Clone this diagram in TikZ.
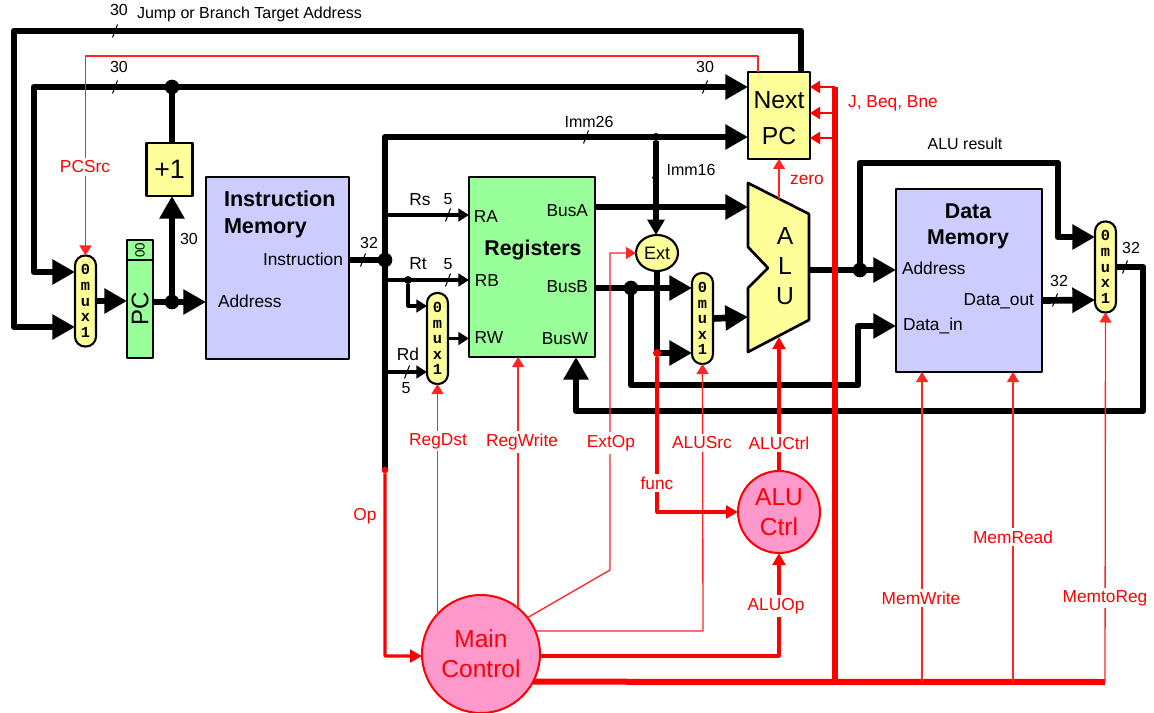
\documentclass[tikz,border=0pt]{standalone}
\usepackage{xcolor}
\usepackage{fontspec}
\setmainfont{Liberation Sans}
\setmonofont{Liberation Mono}
\usetikzlibrary{arrows.meta, calc, shapes.geometric}
\definecolor{memfill}{RGB}{204,204,255}
\definecolor{regfill}{RGB}{153,255,153}
\definecolor{alufill}{RGB}{255,255,153}
\definecolor{ctlfill}{RGB}{255,153,204}
\newcommand{\fs}[1]{\fontsize{#1pt}{#1pt}\selectfont\baselineskip=1.22\baselineskip}

\begin{document}
\begin{tikzpicture}[x=0.75pt, y=-0.75pt, line join=round,
  every node/.style={font=\fs{13}, inner sep=0pt, outer sep=0pt},
  box/.style={draw, line width=2pt, minimum width=#1},
  muxbox/.style={draw, line width=1.6pt, fill=alufill, rounded corners=7.5pt, align=center, minimum width=15.75pt, minimum height=68.25pt, font=\fontsize{11.5}{11.7}\selectfont\ttfamily\bfseries},
  ctlbubble/.style={circle, draw=red, line width=1.5pt, fill=ctlfill, text=red, align=center, font=\fs{18.4}, minimum size=#1},
  dot/.style={circle, fill=#1, minimum size=11pt},
  smalldot/.style={circle, fill=#1, minimum size=6pt},
  bus/.style={line width=5pt, >={Triangle[length=17pt,width=18pt]}},
  midbus/.style={line width=3.8pt, >={Triangle[length=11.5pt,width=12.5pt]}},
  wire/.style={line width=2.3pt, >={Triangle[length=8pt,width=9.5pt]}},
  sig/.style={red!85, line width=1pt, >={Triangle[length=7.5pt,width=9pt]}},
  sigdark/.style={red, line width=1.5pt, >={Triangle[length=7.5pt,width=9pt]}},
  ctl/.style={red, line width=2.4pt, >={Triangle[length=9pt,width=9.5pt]}},
  redbar/.style={red, line width=4.5pt},
  txt/.style={font=\fs{12}},
  redtxt/.style={text=red, fill=white, inner sep=2pt},
  buswidth/.pic={\draw[line width=0.8pt] (-2.5,6.5) -- (2.5,-6.5);}]
  \useasboundingbox (0,0) rectangle (1154,713);

  % blocks
  \node[muxbox] (muxPC) at (85.5,301) {0\\m\\u\\x\\1};
  \node[box=19.5pt, fill=regfill, minimum height=73.5pt] (pcReg) at (140,309) {};
  \node[rotate=90, font=\fs{18}] (pcText) at (140,309) {PC};
  \node[box=19.5pt, fill=regfill, minimum height=15pt] (pcTop) at (140,250) {};
  \node[rotate=90, font=\fs{10}] (pcBits) at (140,250) {00};
  \node[box=34.5pt, fill=alufill, minimum height=39.75pt, font=\fs{20}] (incr) at (169.5,169.5) {+1};
  \node[box=107.25pt, fill=memfill, minimum height=136.5pt] (instrMem) at (277.5,268) {};
  \node[box=94.5pt, fill=regfill, minimum height=135pt] (regs) at (532,267) {};
  \node[muxbox] (muxReg) at (437.5,338.5) {0\\m\\u\\x\\1};
  \node[muxbox] (muxALU) at (702.5,318.5) {0\\m\\u\\x\\1};
  \node[muxbox] (muxMem) at (1105.5,267) {0\\m\\u\\x\\1};
  \node[box=46.5pt, fill=alufill, minimum height=65.25pt] (nextPC) at (779,115.5) {};
  \node[box=109.5pt, fill=memfill, minimum height=137.25pt] (dataMem) at (969,280.5) {};
  \node[ellipse, draw, line width=1.6pt, fill=alufill, minimum width=31.5pt, minimum height=27pt, font=\fs{13.5}] (extUnit) at (657,253) {Ext};
  \draw[line width=2pt, fill=alufill] (748,183) -- (809,214) -- (809,320) -- (748,352) -- (748,288) -- (768,268) -- (748,247) -- cycle;
  \coordinate (aluA) at (748,207);
  \coordinate (aluB) at (748,317);
  \coordinate (aluOut) at (809,270);
  \coordinate (aluTop) at (779,199);
  \coordinate (aluBot) at (779,337);
  \node[ctlbubble=61.5pt] (aluCtrl) at (779,512) {ALU\\Ctrl};
  \node[ctlbubble=88.5pt] (mainCtrl) at (481,654) {Main\\Control};

  % junctions
  \node[dot=black] (jIncr) at (172,87) {};
  \node[dot=black] (jPC) at (172,302) {};
  \node[dot=black] (jInstr) at (385,260) {};
  \node[dot=black] (jBusB) at (631,288) {};
  \node[dot=black] (jAddr) at (860,270) {};
  \node[smalldot=black] (jImm) at (656,137) {};
  \node[smalldot=black] (jRt) at (408,280) {};
  \coordinate (pRA) at ($(regs.west)+(0,-52)$);
  \coordinate (pRB) at ($(regs.west)+(0,13)$);
  \coordinate (pBusA) at ($(regs.east)+(0,-60)$);
  \coordinate (pExtLow) at ($(muxALU.west)+(0,34.5)$);
  \coordinate (pDataIn) at ($(dataMem.west)+(0,45.5)$);

  % datapath
  \draw[bus,->] ($(nextPC.north)+(22,0)$) -- (801,31) -- (14,31) -- (14,327) -- ($(muxPC.west)+(0,26)$);
  \draw[bus,<->] ($(muxPC.west)+(0,-29)$) -- (34,272) -- (34,87) -- ($(nextPC.west)+(0,-28.5)$);
  \draw[bus] (jPC |- incr.north) -- (jIncr);
  \draw[bus,->] (jPC) -- (jPC |- incr.south);
  \draw[bus,->] (muxPC.east) -- (muxPC.east -| pcReg.west);
  \draw[bus,->] (jPC -| pcReg.east) -- (jPC -| instrMem.west);
  \draw[midbus] (instrMem.east |- jInstr) -- (jInstr);
  \draw[bus,->] (385,470) -- (385,137) -- ($(nextPC.west)+(0,21.5)$);
  \draw[midbus,->] (jImm) -- (extUnit.north -| jImm);
  \draw[wire,->] (jInstr |- pRA) -- (pRA);
  \draw[wire,->] (jInstr |- pRB) -- (pRB);
  \draw[wire,->] (jRt) -- (408,306) -- ($(muxReg.west)+(0,-32.5)$);
  \draw[wire,->] ($(muxReg.west)+(-42,33.5)$) -- ($(muxReg.west)+(0,33.5)$);
  \draw[wire,->] (muxReg.east) -- (muxReg.east -| regs.west);
  \draw[bus,->] (pBusA) -- (pBusA -| aluA);
  \draw[bus,->] (jBusB -| regs.east) -- ($(muxALU.west)+(0,-30.5)$);
  \draw[bus,->] (jBusB) -- (631,385) -- (858,385) -- ($(pDataIn)+(-38,0)$) -- (pDataIn);
  \draw[bus] (extUnit.south) -- (extUnit.south |- pExtLow);
  \draw[bus,->] (extUnit.south |- pExtLow) -- (pExtLow);
  \draw[bus,->] (muxALU.east) -- (aluB);
  \draw[bus,->] (aluOut) -- (aluOut -| dataMem.west);
  \draw[bus,->] (jAddr) -- (860,163) -- (1058,163) -- (1058,237) -- ($(muxMem.west)+(0,-30)$);
  \draw[bus,->] ($(dataMem.east)+(0,20)$) -- ($(muxMem.west)+(0,33)$);
  \draw[bus,->] (muxMem.east) -- (1143,267) -- (1143,411) -- (576,411) -- (576,357);

  % bus width ticks
  \pic at (115,31) {buswidth};
  \pic at (115,87) {buswidth};
  \pic at (705,87) {buswidth};
  \pic at (172,243) {buswidth};
  \pic at (363,260) {buswidth};
  \pic at (586,137) {buswidth};
  \pic at (655,172) {buswidth};
  \pic at (448,215) {buswidth};
  \pic at (448,280) {buswidth};
  \pic at (407,372) {buswidth};
  \pic at (1055,300) {buswidth};
  \pic at (1125,267) {buswidth};

  % control
  \node[smalldot=red, minimum size=5pt] (opDot) at (385,470) {};
  \node[smalldot=red] (funcDot) at (657,353) {};
  \coordinate (barEnd) at (1105,682);
  \coordinate (barTop) at (835,87);
  \coordinate (mwFoot) at (922,682);
  \coordinate (mrFoot) at (1013,682);
  \draw[sig,->] ($(nextPC.north)+(-21,0)$) -- (758,56) -- (85.5,56) -- (muxPC.north);
  \draw[sig,->] (aluTop) -- (aluTop |- nextPC.south);
  \draw[sigdark,->] (barTop) -- (barTop -| nextPC.east);
  \draw[sigdark,->] ($(barTop)+(0,26)$) -- ($(nextPC.east)+(0,-2.5)$);
  \draw[sigdark,->] ($(barTop)+(0,51)$) -- ($(nextPC.east)+(0,22.5)$);
  \draw[redbar] (mainCtrl.-28) -- (barEnd);
  \draw[redbar] (barTop) -- (barTop |- barEnd);
  \draw[sig,->] (muxReg.south |- mainCtrl.138) -- (muxReg.south);
  \draw[sig,->] (mainCtrl.51) -- (mainCtrl.51 |- regs.south);
  \draw[sig,->] (mainCtrl.38) -- (610,570) -- (610,253) -- (extUnit.west);
  \draw[sig,->] (mainCtrl.23) -- (703,631) -- (muxALU.south);
  \draw[ctl,->] (mainCtrl.-2) -| (aluCtrl.south);
  \draw[ctl,->] (aluCtrl.north) -- (aluBot);
  \draw[ctl,->] (funcDot) |- (aluCtrl.west);
  \draw[ctl,->] (opDot) -- (385,656) -- (mainCtrl.182);
  \draw[sig,->] (mwFoot) -- (mwFoot |- dataMem.south);
  \draw[sig,->] (mrFoot) -- (mrFoot |- dataMem.south);
  \draw[sig,->] (barEnd) -- (muxMem.south);

  % block texts
  \node[font=\bfseries\fs{16.2}, anchor=north west, align=left] (imTitle) at (224,191) {Instruction\\Memory};
  \node[anchor=east] (imInstr) at (343,259) {Instruction};
  \node[anchor=west] (imAddr) at (218,301) {Address};
  \node[font=\bfseries\fs{16}] (regTitle) at (533,250) {Registers};
  \node (portRA) at (486,217) {RA};
  \node (portRB) at (487,281) {RB};
  \node (portRW) at (489,338) {RW};
  \node[anchor=east] (portBusA) at (588,211) {BusA};
  \node[anchor=east] (portBusB) at (588,287) {BusB};
  \node[anchor=east] (portBusW) at (588,339) {BusW};
  \node[font=\fs{18.5}] (nextText) at (779,100) {Next};
  \node[font=\fs{18.5}] (pcName) at (779,136) {PC};
  \node[font=\fs{18.5}, align=center] (aluText) at (785,266) {A\\L\\U};
  \node[font=\bfseries\fs{16}, align=center] (dmTitle) at (968,226) {Data\\Memory};
  \node[anchor=west] (dmAddr) at (902,268) {Address};
  \node[anchor=east] (dmOut) at (1034,301) {Data\_out};
  \node[anchor=west] (dmIn) at (903,326) {Data\_in};

  % wire labels
  \node[txt] (topW) at (119,10) {30};
  \node[txt, anchor=west] (topName) at (137,14) {Jump or Branch Target Address};
  \node[txt] (seqW) at (119,67) {30};
  \node[txt] (seqWb) at (705,67) {30};
  \node[txt] (incW) at (189,239) {30};
  \node[txt] (instrW) at (369,243) {32};
  \node[txt] (immA) at (589,122) {Imm26};
  \node[txt] (immB) at (691,170) {Imm16};
  \node (rsName) at (420,200) {Rs};
  \node[txt] (rsW) at (448,199) {5};
  \node (rtName) at (418,264) {Rt};
  \node[txt] (rtW) at (448,264) {5};
  \node (rdName) at (408,354) {Rd};
  \node[txt] (rdW) at (406,388) {5};
  \node[txt] (resName) at (965,144) {ALU result};
  \node[txt] (outW) at (1059,281) {32};
  \node[txt] (memW) at (1131,248) {32};

  % control labels
  \node[redtxt] (pcSrc) at (85,167) {PCSrc};
  \node[text=red] (jbb) at (893,103) {J, Beq, Bne};
  \node[text=red] (zeroName) at (807,180) {zero};
  \node[redtxt] (regDst) at (438,441) {RegDst};
  \node[redtxt] (regWrite) at (522,442) {RegWrite};
  \node[redtxt] (extOp) at (611,443) {ExtOp};
  \node[redtxt] (aluSrc) at (702,443) {ALUSrc};
  \node[redtxt] (aluCtl) at (779,443) {ALUCtrl};
  \node[redtxt] (funcName) at (657,483) {func};
  \node[text=red] (opName) at (365,516) {Op};
  \node[redtxt] (aluOp) at (776,606) {ALUOp};
  \node[redtxt] (memWrite) at (921,598) {MemWrite};
  \node[redtxt] (memRead) at (1013,537) {MemRead};
  \node[redtxt] (memToReg) at (1105,598) {MemtoReg};
\end{tikzpicture}
\end{document}
